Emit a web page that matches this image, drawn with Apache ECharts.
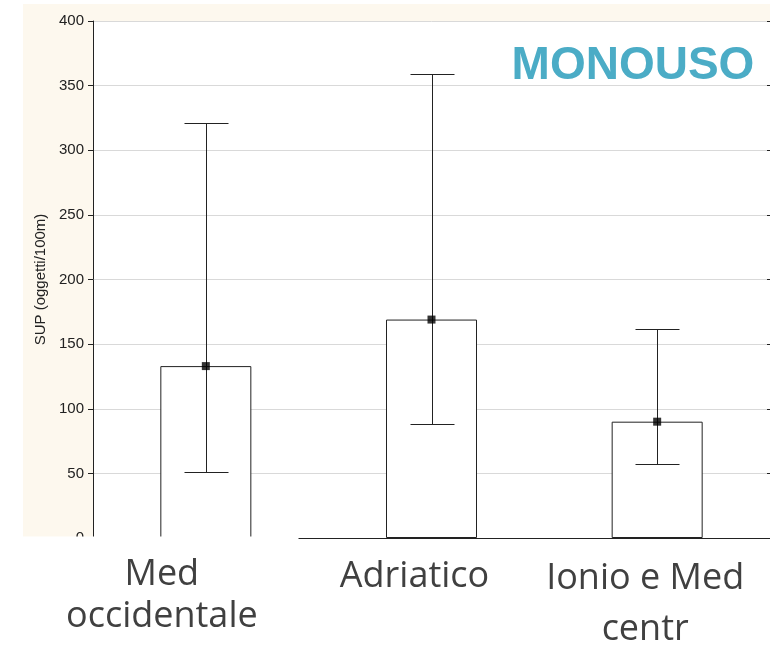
<!DOCTYPE html>
<html><head><meta charset="utf-8">
<script src="https://cdn.jsdelivr.net/npm/echarts@6/dist/echarts.min.js"></script>
<style>html,body{margin:0;padding:0;background:#fff}#c{width:770px;height:647px}</style>
</head><body><div id="c"></div>
<script>
// ---- data ----
const categories = ['Med\noccidentale', 'Adriatico', 'Ionio e Med\ncentr'];
const means = [133, 169, 90];
const upper = [321, 359, 162];
const lower = [51, 88, 57];
const yMin = 0, yMax = 400, yStep = 50;
const titleText = 'MONOUSO';
const yName = 'SUP (oggetti/100m)';

// ---- layout / style ----
const AX = '#222';
const labelDx = [-44, -17, -12];
const labelTop = [554, 556, 553];
const labelLH = [42, 42, 51];

const chart = echarts.init(document.getElementById('c'), null, { renderer: 'canvas' });

const xAxisBase = {
  type: 'category', data: categories,
  axisLine: { show: true, lineStyle: { color: AX, width: 1 } },
  axisTick: { show: true, inside: true, length: 3, alignWithLabel: true, lineStyle: { color: AX } },
  axisLabel: { show: false },
  splitLine: { show: false }
};

const option = {
  animation: false,
  backgroundColor: '#fff',
  grid: { left: 93, top: 21, width: 678, height: 517, show: true, backgroundColor: '#fff', borderWidth: 0 },
  xAxis: [
    Object.assign({ position: 'bottom' }, xAxisBase),
    Object.assign({ position: 'top' }, xAxisBase)
  ],
  yAxis: [
    {
      type: 'value', min: yMin, max: yMax, interval: yStep, position: 'left',
      axisLine: { show: true, lineStyle: { color: AX } },
      axisTick: { show: true, length: 5, lineStyle: { color: AX } },
      axisLabel: { fontSize: 15, color: AX, margin: 9, fontFamily: 'Liberation Sans, Arial, sans-serif' },
      splitLine: { show: true, lineStyle: { color: '#d9d9d9', width: 1 } },
      name: yName, nameLocation: 'middle', nameGap: 43,
      nameTextStyle: { fontSize: 15, color: AX, fontFamily: 'Liberation Sans, Arial, sans-serif' }
    },
    {
      type: 'value', min: yMin, max: yMax, interval: yStep, position: 'right',
      axisLine: { show: true, lineStyle: { color: AX } },
      axisTick: { show: true, inside: true, length: 3, lineStyle: { color: AX } },
      axisLabel: { show: false },
      splitLine: { show: false }
    }
  ],
  series: [
    {
      type: 'bar', xAxisIndex: 0, yAxisIndex: 0, data: means, barWidth: 91,
      itemStyle: { color: '#fff', borderColor: AX, borderWidth: 1 }, z: 2
    },
    {
      type: 'custom', xAxisIndex: 0, yAxisIndex: 0, z: 3,
      data: categories.map((c, i) => [i, lower[i], upper[i]]),
      renderItem: function (params, api) {
        const lo = api.coord([api.value(0), api.value(1)]);
        const hi = api.coord([api.value(0), api.value(2)]);
        const x = Math.round(lo[0]) + 0.5;
        const yl = Math.round(lo[1]) + 0.5, yh = Math.round(hi[1]) + 0.5;
        const hw = 22;
        const st = { stroke: AX, lineWidth: 1 };
        return {
          type: 'group', children: [
            { type: 'line', shape: { x1: x, y1: yl, x2: x, y2: yh }, style: st },
            { type: 'line', shape: { x1: x - hw, y1: yl, x2: x + hw, y2: yl }, style: st },
            { type: 'line', shape: { x1: x - hw, y1: yh, x2: x + hw, y2: yh }, style: st }
          ]
        };
      }
    },
    {
      type: 'scatter', xAxisIndex: 0, yAxisIndex: 0, data: means,
      symbol: 'rect', symbolSize: 8, itemStyle: { color: '#000' }, z: 4
    }
  ],
  graphic: [
    { type: 'rect', z: -100, silent: true, shape: { x: 23, y: 4, width: 747, height: 533 }, style: { fill: '#fdf8ee' } },
    { type: 'rect', z: 100, silent: true, shape: { x: 0, y: 536.6, width: 298.5, height: 120 }, style: { fill: '#fff' } },
    { type: 'rect', z: 100, silent: true, shape: { x: 0, y: 539, width: 770, height: 120 }, style: { fill: '#fff' } },
    {
      type: 'text', z: 120, x: 633, y: 66,
      style: { text: titleText, fill: '#4bacc6', font: 'bold 46px "Liberation Sans", Arial, sans-serif', textAlign: 'center', textVerticalAlign: 'middle' }
    }
  ]
};
chart.setOption(option);

const labelGraphics = categories.map((c, i) => {
  const cx = chart.convertToPixel({ xAxisIndex: 0 }, i);
  return {
    type: 'text', z: 120, x: cx + labelDx[i], y: labelTop[i],
    style: {
      text: c, fill: '#404040', font: '36px "Open Sans", sans-serif',
      textAlign: 'center', textVerticalAlign: 'top', lineHeight: labelLH[i]
    }
  };
});
chart.setOption({ graphic: option.graphic.concat(labelGraphics) });
</script>
</body></html>
